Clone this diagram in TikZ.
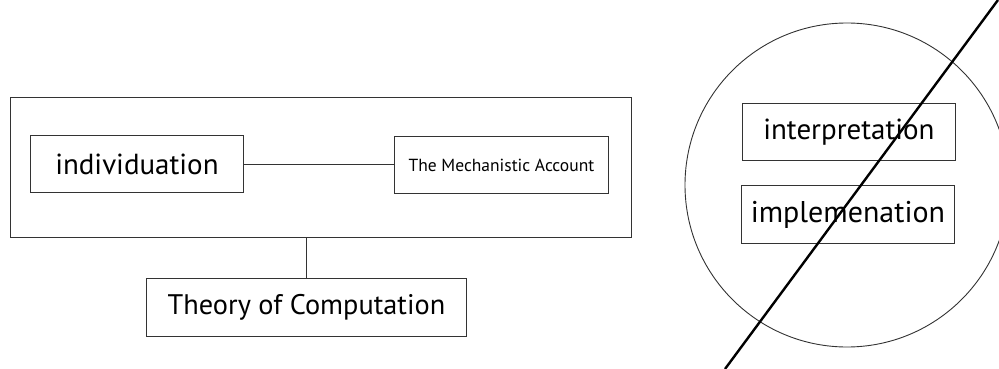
\documentclass[tikz,border=0pt]{standalone}
\usepackage{fontspec}
\setmainfont{PT Sans}
\begin{document}
\begin{tikzpicture}[x=1pt,y=-1pt,
  box/.style={draw=black!80,line width=0.9pt,rectangle,inner sep=0pt,anchor=north west},
  link/.style={draw=black!80,line width=0.9pt},
  strike/.style={draw=black,line width=2.4pt}]
\useasboundingbox (0,0) rectangle (999,369);
\clip (0,0) rectangle (999,369);
% left group
\node[box,minimum width=621pt,minimum height=140pt] (outer) at (10,97) {};
\node[box,minimum width=213pt,minimum height=57pt,font=\fontsize{29}{34}\selectfont] (ind) at (30,135) {individuation};
\node[box,minimum width=214pt,minimum height=57pt,font=\fontsize{17.5}{21}\selectfont] (mech) at (394,136) {The Mechanistic Account};
\node[box,minimum width=320pt,minimum height=58pt,font=\fontsize{28.3}{33}\selectfont] (toc) at (146,278) {Theory of Computation};
\draw[link] (ind.east) -- (ind.east -| mech.west);
\draw[link] (toc.north) -- (toc.north |- outer.south);
% right group
\node[draw=black!80,line width=0.9pt,circle,minimum size=324pt,inner sep=0pt] (circ) at (847,185) {};
\node[box,minimum width=213pt,minimum height=57pt,font=\fontsize{29}{34}\selectfont] (interp) at (742,103) {interpretation};
\node[box,minimum width=213pt,minimum height=58pt,font=\fontsize{30}{35}\selectfont] (impl) at (741,185) {implemenation};
\coordinate (s1) at (725,369);
\coordinate (s2) at (998,0);
\draw[strike] (s1) -- (s2);
\end{tikzpicture}
\end{document}
